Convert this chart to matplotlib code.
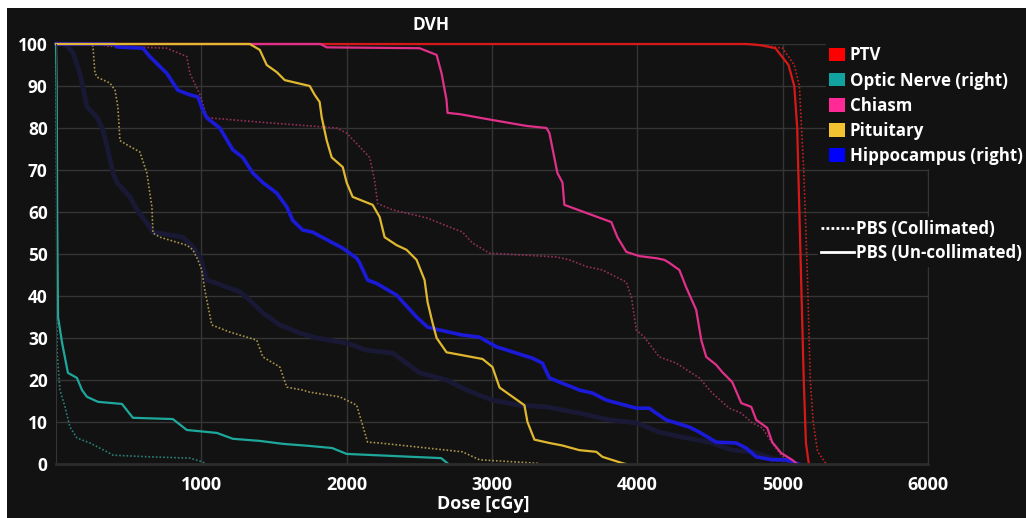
import matplotlib
matplotlib.use("Agg")
from matplotlib import pyplot as plt
from matplotlib.patches import Patch, Rectangle
from matplotlib.lines import Line2D

# DVH curves: dose in cGy, volume in %
ptv_dose = [0, 4750, 4850, 4950, 5040, 5080, 5100, 5115, 5130, 5145, 5160, 5180]
ptv_vol = [100, 100, 99.7, 99, 95, 90, 80, 60, 40, 20, 5, 0]
ptv_col_dose = [0, 4800, 5000, 5080, 5115, 5145, 5170, 5190, 5210, 5240, 5300]
ptv_col_vol = [100, 100, 99, 95, 90, 70, 45, 20, 10, 3, 0]

optic_dose = [0, 5, 8, 10, 14, 41, 82, 144, 179, 213, 289, 454, 529, 804, 900,
              1107, 1217, 1402, 1560, 1746, 1900, 2000, 2650, 2700]
optic_vol = [100, 90, 60, 50, 35, 29, 21.7, 20.5, 17.6, 16, 14.8, 14.3, 11, 10.7, 8.1,
             7.4, 6, 5.5, 4.8, 4.3, 3.8, 2.4, 1.4, 0]
optic_col_dose = [0, 4, 7, 27, 62, 96, 144, 234, 351, 392, 646, 921, 1010, 1030]
optic_col_vol = [100, 60, 27, 17.6, 13.6, 8.8, 6.2, 5, 2.9, 2.1, 1.7, 1.4, 0.5, 0]

chiasm_dose = [0, 1820, 1863, 2502, 2619, 2653, 2687, 2694, 2777, 3003, 3237, 3375, 3395,
               3450, 3485, 3498, 3553, 3821, 3863, 3924, 4014, 4130, 4186, 4220, 4289,
               4337, 4405, 4440, 4474, 4543, 4584, 4653, 4715, 4784, 4818, 4894, 4928,
               4990, 5065, 5093]
chiasm_vol = [100, 100, 99.2, 99, 97.4, 93, 86.7, 83.6, 83.3, 81.9, 80.5, 80, 78.8,
              69.3, 67, 61.7, 61, 57.6, 54, 50.5, 49.5, 49, 48.6, 47.9, 46.2,
              42, 36.7, 29.5, 25.5, 23.6, 21.9, 19.5, 14.5, 13.6, 10.5, 8.6, 5.2,
              2.6, 1, 0.2]
chiasm_col_dose = [0, 300, 351, 763, 900, 921, 990, 1038, 1058, 1402, 1746, 1931, 2000,
                   2158, 2192, 2213, 2316, 2550, 2797, 2866, 2983, 3443, 3533, 3650,
                   3760, 3924, 3959, 3993, 4048, 4151, 4268, 4426, 4515, 4632, 4715,
                   4790, 4859, 4928, 4990, 5065, 5100]
chiasm_col_vol = [100, 100, 99.5, 99, 97, 93, 88, 82.6, 82.4, 81.4, 80.5, 80, 78.8,
                  73, 67.6, 62, 60.5, 58.6, 55.2, 52.6, 50.2, 49.3, 48.6, 47,
                  46.2, 43.3, 39.8, 31.9, 30.2, 25.5, 24, 20.5, 16.9, 13.3, 12.1,
                  9.8, 8.6, 5, 2.1, 0.5, 0]

pit_dose = [0, 1333, 1402, 1450, 1519, 1574, 1746, 1780, 1814, 1828, 1863, 1897, 1973,
            2000, 2041, 2179, 2227, 2261, 2344, 2412, 2481, 2536, 2557, 2591, 2619,
            2687, 2935, 3003, 3052, 3223, 3244, 3292, 3395, 3485, 3601, 3718, 3760,
            3897, 3920]
pit_vol = [100, 100, 98.6, 95, 93.3, 91.4, 90, 87.9, 86.2, 82.6, 77, 73, 70.7,
           67, 63.6, 61.7, 58.8, 54, 52.1, 51, 48.6, 43.8, 38.5, 33.6, 30,
           26.6, 25, 23.1, 18.2, 14, 10, 5.8, 5, 4.4, 3.3, 2.9, 1.7,
           0.2, 0]
pit_col_dose = [0, 240, 254, 268, 289, 371, 406, 426, 440, 488, 577, 625, 660, 667, 715,
                900, 942, 976, 1003, 1024, 1072, 1196, 1381, 1423, 1540, 1588, 1698,
                1746, 1952, 2069, 2144, 2227, 2797, 2914, 3306, 3330]
pit_col_vol = [100, 100, 99.5, 93, 92, 90.7, 89, 85, 77, 76, 74.3, 69.3, 61.2, 55, 54,
               52.1, 51, 48.6, 46.2, 41.4, 33.1, 31.4, 29.5, 25.5, 23.1, 18.3, 17.6,
               17.1, 16, 14, 5.2, 5, 2.9, 1, 0.2, 0]

hip_dose = [0, 400, 419, 598, 646, 763, 838, 921, 976, 1010, 1038, 1127, 1217, 1285,
            1354, 1423, 1519, 1588, 1629, 1698, 1766, 1972, 2069, 2089, 2144, 2206,
            2344, 2481, 2557, 2639, 2797, 2914, 3031, 3141, 3278, 3347, 3395, 3464,
            3553, 3601, 3691, 3787, 3993, 4082, 4130, 4199, 4357, 4426, 4543, 4680,
            4749, 4818, 4928, 5024, 5093, 5110]
hip_vol = [100, 100, 99.3, 99, 97, 93, 89, 87.9, 87.4, 84.3, 82.4, 80, 74.8, 73,
           69.3, 67, 64.5, 61.2, 58, 55.7, 55.2, 51.4, 49, 47.9, 43.8, 43,
           40.2, 35, 32.6, 31.9, 30.7, 30.2, 27.9, 26.7, 25.2, 24, 20.5, 19.5,
           18.3, 17.6, 16.9, 15.2, 13.3, 13.3, 12.1, 10.5, 8.8, 7.6, 5.2, 5,
           3.8, 1.7, 1, 1, 0.2, 0]
hip_col_dose = [0, 60, 76, 117, 165, 213, 282, 323, 357, 392, 419, 509, 557, 625, 667,
                873, 942, 990, 1003, 1038, 1107, 1265, 1333, 1423, 1540, 1677, 1794,
                2000, 2137, 2316, 2412, 2502, 2687, 2825, 3003, 3189, 3375, 3601, 3808,
                3993, 4151, 4337, 4495, 4653, 4790, 4928, 5045, 5080]
hip_col_vol = [100, 100, 99.5, 97.9, 93, 85, 82.6, 79.5, 74.8, 69.3, 67, 63.6, 60.5,
               57.4, 55.2, 54, 51.7, 49.3, 48, 43.8, 43, 41, 39, 36, 33.1, 31.2, 30,
               28.8, 27.1, 26.4, 24, 21.7, 20, 17.6, 15.2, 14, 13.6, 12.1, 10.5,
               9.8, 7.6, 6.2, 5.2, 3.3, 2.9, 1.4, 0.5, 0]

structures = ["PTV", "Optic Nerve (right)", "Chiasm", "Pituitary", "Hippocampus (right)"]
swatch_colors = ["#ff0000", "#12a3a0", "#ff2a96", "#f2c230", "#0000ff"]

bg = "#121212"
grid_c = "#353535"
font = "Open Sans"

fig = plt.figure(figsize=(10.26, 5.18), dpi=100, facecolor="white")
fig.patches.append(Rectangle((7 / 1026, 0), 1, 1 - 8 / 518, transform=fig.transFigure,
                             facecolor=bg, edgecolor="none", zorder=-10))
ax = fig.add_axes([56 / 1026, 54 / 518, 872 / 1026, 420 / 518])
ax.set_facecolor(bg)

# collimated (dotted) first; the hippocampus one renders as a faint navy band
ax.plot(hip_col_dose, hip_col_vol, color="#191936", lw=3.4, solid_capstyle="round", clip_on=False)
ax.plot(optic_col_dose, optic_col_vol, color="#2a8078", lw=1.2, ls=(0, (1, 1.2)), clip_on=False)
ax.plot(pit_col_dose, pit_col_vol, color="#a8944a", lw=1.2, ls=(0, (1, 1.2)), clip_on=False)
ax.plot(chiasm_col_dose, chiasm_col_vol, color="#92305a", lw=1.2, ls=(0, (1, 1.2)), clip_on=False)
ax.plot(ptv_col_dose, ptv_col_vol, color="#c42020", lw=1.2, ls=(0, (1, 1.2)), clip_on=False)

# un-collimated (solid)
ax.plot(ptv_dose, ptv_vol, color="#d81818", lw=1.6, clip_on=False)
ax.plot(hip_dose, hip_vol, color="#1a1ad8", lw=2.6, clip_on=False)
ax.plot(chiasm_dose, chiasm_vol, color="#e0308a", lw=1.6, clip_on=False)
ax.plot(optic_dose, optic_vol, color="#1ea89c", lw=1.6, clip_on=False)
ax.plot(pit_dose, pit_vol, color="#e0b830", lw=1.6, clip_on=False)

ax.set_xlim(0, 6000)
ax.set_ylim(0, 100)
ax.set_xticks([1000, 2000, 3000, 4000, 5000, 6000])
ax.set_yticks(range(0, 101, 10))
ax.grid(True, color=grid_c, lw=1)
ax.set_axisbelow(True)
ax.tick_params(length=0, colors="white")
ax.tick_params(axis="x", pad=9)
ax.tick_params(axis="y", pad=6)
for lab in ax.get_xticklabels():
    lab.set_fontfamily(font)
    lab.set_fontweight("bold")
    lab.set_fontsize(13)
for lab in ax.get_yticklabels():
    lab.set_fontfamily(font)
    lab.set_fontweight("bold")
    lab.set_fontsize(12.5)
ax.spines["top"].set_visible(False)
ax.spines["left"].set_color(grid_c)
ax.spines["right"].set_color(grid_c)
ax.spines["bottom"].set_color("#2c2c2c")
ax.spines["bottom"].set_linewidth(2)

fig.text(431 / 1026, 1 - 25 / 518, "DVH", ha="center", va="center", color="white",
         fontfamily=font, fontweight="bold", fontsize=12.5)
fig.text(483 / 1026, 1 - 504 / 518, "Dose [cGy]", ha="center", va="center", color="white",
         fontfamily=font, fontweight="bold", fontsize=13)

handles = [Patch(facecolor=c, edgecolor="none") for c in swatch_colors]
leg1 = fig.legend(handles, structures, loc="upper left",
                  bbox_to_anchor=(826 / 1026, 1 - 43 / 518), frameon=True,
                  facecolor=bg, edgecolor=bg, framealpha=1, fancybox=False,
                  borderpad=0.2, handlelength=0.95, handleheight=0.85, handletextpad=0.25,
                  labelspacing=0.42, borderaxespad=0,
                  prop={"family": font, "weight": "bold", "size": 12.2})
for t in leg1.get_texts():
    t.set_color("white")

line_handles = [Line2D([], [], color="white", lw=2, ls=(0, (1, 0.8))),
                Line2D([], [], color="white", lw=2)]
leg2 = fig.legend(line_handles, ["PBS (Collimated)", "PBS (Un-collimated)"], loc="upper left",
                  bbox_to_anchor=(818 / 1026, 1 - 217 / 518), frameon=True,
                  facecolor=bg, edgecolor=bg, framealpha=1, fancybox=False,
                  borderpad=0.2, handlelength=1.9, handletextpad=0.15,
                  labelspacing=0.35, borderaxespad=0,
                  prop={"family": font, "weight": "bold", "size": 12.2})
for t in leg2.get_texts():
    t.set_color("white")

fig.savefig("out.png", dpi=100, facecolor=fig.get_facecolor())
